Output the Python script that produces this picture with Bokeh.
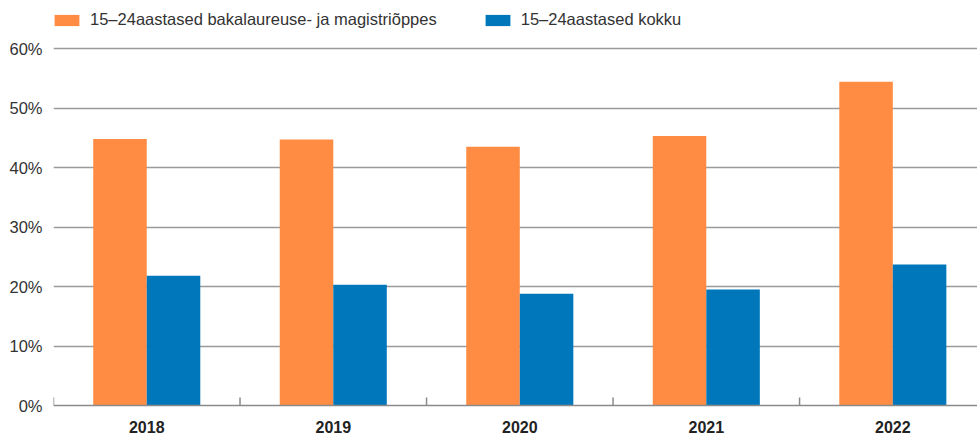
from bokeh.plotting import figure
from bokeh.models import (ColumnDataSource, FixedTicker, Range1d, Legend, LegendItem, Span)
from bokeh.core.properties import value
from bokeh.transform import dodge
from bokeh.embed import file_html
from bokeh.resources import INLINE

years = ["2018", "2019", "2020", "2021", "2022"]
bachelor_master = [44.8, 44.7, 43.5, 45.3, 54.4]
total = [21.8, 20.3, 18.8, 19.5, 23.7]
y_ticks = [0, 10, 20, 30, 40, 50, 60]
y_tick_labels = ["0%", "10%", "20%", "30%", "40%", "50%", "60%"]
series_names = ["15–24aastased bakalaureuse- ja magistriõppes", "15–24aastased kokku"]

ORANGE = "#FF8C42"
BLUE = "#0077BB"
AXIS_GREY = "#8a8a8a"
FONT = "Liberation Sans"

W, H = 977, 434
PX_PER_UNIT = 5.95          # vertical pixels per percentage point
ZERO_PX = 405               # canvas y of the 0 % line
TOP_PX = 48                 # canvas y of the 60 % line
X0, X1 = 0, 4.954
Y0 = -(H - ZERO_PX) / PX_PER_UNIT
Y1 = y_ticks[-1] + TOP_PX / PX_PER_UNIT

pos = [i + 0.5 for i in range(len(years))]
seps = list(range(len(years)))
src = ColumnDataSource(dict(x=pos, a=bachelor_master, b=total, t=years,
                            base=[y_ticks[0]] * len(years)))

p = figure(width=W, height=H, output_backend="svg", toolbar_location=None,
           title=None, x_range=Range1d(X0, X1), y_range=Range1d(Y0, Y1),
           min_border_left=53, min_border_right=0, min_border_top=0,
           min_border_bottom=0, outline_line_color=None)

bw = 0.287
r1 = p.vbar(x=dodge("x", -bw / 2, range=p.x_range), top="a", width=bw, source=src,
            fill_color=ORANGE, line_color=None)
r2 = p.vbar(x=dodge("x", bw / 2, range=p.x_range), top="b", width=bw, source=src,
            fill_color=BLUE, line_color=None)

# baseline (0 %) and category separator ticks
p.add_layout(Span(location=y_ticks[0], dimension="width", line_color=AXIS_GREY,
                  line_width=1.5))
sep_src = ColumnDataSource(dict(x=seps, y0=[y_ticks[0]] * len(seps),
                                y1=[y_ticks[0] + 8 / PX_PER_UNIT] * len(seps)))
p.segment(x0="x", y0="y0", x1="x", y1="y1", source=sep_src,
          line_color=AXIS_GREY, line_width=1.5)

# year labels under the baseline
p.text(x="x", y="base", text="t", source=src, y_offset=21,
       text_align="center", text_baseline="middle",
       text_font=value(FONT), text_font_size="16px", text_font_style="bold",
       text_color="#222222")

p.xaxis.visible = False

ya = p.yaxis[0]
ya.ticker = FixedTicker(ticks=y_ticks)
ya.major_label_overrides = {t: l for t, l in zip(y_ticks, y_tick_labels)}
ya.axis_line_color = None
ya.major_tick_line_color = None
ya.major_tick_out = 0
ya.minor_tick_line_color = None
ya.major_label_text_font = FONT
ya.major_label_text_font_size = "16.5px"
ya.major_label_text_color = "#333333"
ya.major_label_standoff = 11

p.xgrid.grid_line_color = None
p.ygrid.ticker = FixedTicker(ticks=y_ticks[1:])
p.ygrid.grid_line_color = "#9a9a9a"
p.ygrid.grid_line_width = 1.6

legend = Legend(items=[LegendItem(label=series_names[0], renderers=[r1]),
                       LegendItem(label=series_names[1], renderers=[r2])],
                orientation="horizontal", location=(-2, 405),
                glyph_width=31, glyph_height=14, label_standoff=8, spacing=45,
                padding=0, margin=0, border_line_color=None,
                background_fill_alpha=0,
                label_text_font=FONT, label_text_font_size="16.5px",
                label_text_color="#333333")
p.add_layout(legend)

open("out.html", "w").write(file_html(p, INLINE))
